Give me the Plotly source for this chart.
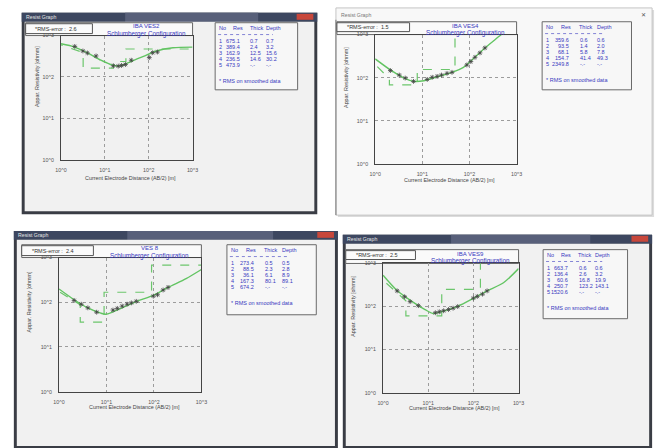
import plotly.graph_objects as go

# ---------------- data ----------------
TICK_VALS = [1, 10, 100, 1000]
TICK_TEXT = ["10^0", "10^1", "10^2", "10^3"]
X_END = 1000

# VES2
VES2_AB2 = [2.06, 3.16, 4.0, 6.3, 15.6, 20.2, 24, 29.5, 40, 103, 123, 158]
VES2_RHO = [547, 424, 380, 322, 186, 183, 190, 200, 254, 294, 386, 401]
VES2_FIT_AB2 = [1, 2.06, 4.1, 8.1, 14.8, 22.8, 38, 76, 150, 356, 1000]
VES2_FIT_RHO = [633, 527, 379, 254, 193, 186, 232, 316, 424, 508, 527]
VES2_RES = [675.1, 389.4, 162.9, 236.5, 473.9]
VES2_DEPTH = [0.7, 3.2, 15.6, 30.2]
VES2_RES_TXT = ["675.1", "389.4", "162.9", "236.5", "473.9"]
VES2_THICK_TXT = ["0.7", "2.4", "12.5", "14.6", "-.-"]
VES2_DEPTH_TXT = ["0.7", "3.2", "15.6", "30.2", "-.-"]
VES2_RMS = "2.6"
VES2_TITLE = "IBA VES2"

# VES4
VES4_AB2 = [2.1, 3.24, 4.33, 6.5, 12.7, 16.2, 20.6, 25.5, 33.4, 42.6, 88, 107, 131, 167, 213]
VES4_RHO = [146, 115, 98, 82, 91, 102, 107, 115, 126, 133, 197, 236, 297, 375, 490]
VES4_FIT_AB2 = [1, 2.1, 4.1, 6.7, 10.8, 20.6, 42.6, 74.5, 103, 213, 474, 1000]
VES4_FIT_RHO = [272, 151, 98, 82, 85, 105, 133, 174, 236, 490, 1000, 2000]
VES4_RES = [359.6, 93.5, 68.1, 154.7, 2349.8]
VES4_DEPTH = [0.6, 2.0, 7.8, 49.3]
VES4_RES_TXT = ["359.6", "93.5", "68.1", "154.7", "2349.8"]
VES4_THICK_TXT = ["0.6", "1.4", "5.8", "41.4", "-.-"]
VES4_DEPTH_TXT = ["0.6", "2.0", "7.8", "49.3", "-.-"]
VES4_RMS = "1.5"
VES4_TITLE = "IBA VES4"

# VES 8
VES8_AB2 = [2.08, 2.94, 4.05, 6.2, 13.7, 16.9, 21.4, 27.2, 33.4, 42.4, 97, 119, 156, 198]
VES8_RHO = [110, 90.5, 75, 60, 67, 73, 82, 90.6, 96.8, 105, 137, 147, 188, 215]
VES8_FIT_AB2 = [1, 2.08, 4.05, 7.6, 9.7, 13.3, 43.6, 97, 198, 476, 1000]
VES8_FIT_RHO = [198, 114, 75, 57, 54, 60, 105, 142, 215, 338, 540]
VES8_RES = [273.4, 88.5, 36.1, 167.3, 674.2]
VES8_DEPTH = [0.5, 2.8, 8.9, 89.1]
VES8_RES_TXT = ["273.4", "88.5", "36.1", "167.3", "674.2"]
VES8_THICK_TXT = ["0.5", "2.3", "6.1", "80.1", "-.-"]
VES8_DEPTH_TXT = ["0.5", "2.8", "8.9", "89.1", "-.-"]
VES8_RMS = "2.4"
VES8_TITLE = "VES 8"

# VES9
VES9_AB2 = [2.05, 3.0, 3.97, 6.06, 14.4, 17.6, 21.9, 28.1, 35.5, 44.9, 100, 122, 159, 201]
VES9_RHO = [231, 169, 130, 105, 71.8, 75.6, 79.8, 85.4, 91.6, 100, 157, 172, 194, 231]
VES9_FIT_AB2 = [1, 2.05, 4.34, 8.5, 12.8, 17.9, 44.9, 103, 201, 464, 1000]
VES9_FIT_RHO = [533, 235, 132, 85, 69, 74, 101, 157, 231, 357, 760]
VES9_RES = [663.7, 136.4, 60.6, 250.7, 1520.6]
VES9_DEPTH = [0.6, 3.2, 19.9, 143.1]
VES9_RES_TXT = ["663.7", "136.4", "60.6", "250.7", "1520.6"]
VES9_THICK_TXT = ["0.6", "2.6", "16.8", "123.2", "-.-"]
VES9_DEPTH_TXT = ["0.6", "3.2", "19.9", "143.1", "-.-"]
VES9_RMS = "2.5"
VES9_TITLE = "IBA VES9"

# ---------------- geometry / style ----------------
W, H = 664, 448
FONT = "Liberation Sans, Arial, sans-serif"
BLUE = "#3838c0"
GREEN = "#62c462"
GREEN_D = "#6cc66c"

PANELS = [
    dict(ab2=VES2_AB2, rho=VES2_RHO, fx=VES2_FIT_AB2, fy=VES2_FIT_RHO, res=VES2_RES, dep=VES2_DEPTH,
         rt=VES2_RES_TXT, tt=VES2_THICK_TXT, dt=VES2_DEPTH_TXT, rms=VES2_RMS, title=VES2_TITLE,
         win=(16, 10, 317, 214), style="dark", plot=(56, 33, 190, 159), htop=20,
         rbox=(20, 21, 88, 31), table=(213, 20, 297, 88), ttl=(23, 31), xt=177, yt=31),
    dict(ab2=VES4_AB2, rho=VES4_RHO, fx=VES4_FIT_AB2, fy=VES4_FIT_RHO, res=VES4_RES, dep=VES4_DEPTH,
         rt=VES4_RES_TXT, tt=VES4_THICK_TXT, dt=VES4_DEPTH_TXT, rms=VES4_RMS, title=VES4_TITLE,
         win=(336, 5, 658, 215), style="light", plot=(376, 32, 520, 163), htop=19,
         rbox=(337, 20, 411, 29), table=(546, 19, 637, 88), ttl=(23, 30), xt=179, yt=346),
    dict(ab2=VES8_AB2, rho=VES8_RHO, fx=VES8_FIT_AB2, fy=VES8_FIT_RHO, res=VES8_RES, dep=VES8_DEPTH,
         rt=VES8_RES_TXT, tt=VES8_THICK_TXT, dt=VES8_DEPTH_TXT, rms=VES8_RMS, title=VES8_TITLE,
         win=(8, 231, 338, 452), style="dark", plot=(54, 258, 199, 394), htop=245,
         rbox=(16, 246, 89, 256), table=(225, 245, 316, 316), ttl=(248, 256), xt=409, yt=23),
    dict(ab2=VES9_AB2, rho=VES9_RHO, fx=VES9_FIT_AB2, fy=VES9_FIT_RHO, res=VES9_RES, dep=VES9_DEPTH,
         rt=VES9_RES_TXT, tt=VES9_THICK_TXT, dt=VES9_DEPTH_TXT, rms=VES9_RMS, title=VES9_TITLE,
         win=(343, 235, 658, 452), style="dark", plot=(384, 264, 522, 395), htop=250,
         rbox=(346, 251, 417, 260), table=(547, 250, 633, 320), ttl=(254, 261), xt=411, yt=353),
]


def px(x):
    return x / W


def py(y):
    return 1 - y / H


def step_curve(depths, res):
    xs, ys = [depths[0]], [res[0]]
    for i, d in enumerate(depths[1:], start=1):
        xs += [d, d]
        ys += [res[i], res[i + 1]]
    xs.append(X_END)
    ys.append(res[-1])
    return xs, ys


shapes = []
annots = []


def rect(x0, y0, x1, y1, fill=None, line=None, lw=1, layer="below"):
    shapes.append(dict(type="rect", xref="paper", yref="paper", x0=px(x0), x1=px(x1),
                       y0=py(y1), y1=py(y0), fillcolor=fill or "rgba(0,0,0,0)",
                       line=dict(color=line or "rgba(0,0,0,0)", width=lw if line else 0),
                       layer=layer))


def hline(x0, x1, y, color, lw=1, dash="solid", layer="above"):
    shapes.append(dict(type="line", xref="paper", yref="paper", x0=px(x0), x1=px(x1),
                       y0=py(y), y1=py(y), line=dict(color=color, width=lw, dash=dash), layer=layer))


def text(t, x, y, size=5.5, color="#333", xanchor="left", angle=0):
    annots.append(dict(text=t, xref="paper", yref="paper", x=px(x), y=py(y), showarrow=False,
                       xanchor=xanchor, yanchor="middle", textangle=angle, borderpad=0,
                       font=dict(family=FONT, size=size, color=color)))


fig = go.Figure()
layout_axes = {}

for i, p in enumerate(PANELS):
    n = i + 1
    xname = "x" if n == 1 else f"x{n}"
    yname = "y" if n == 1 else f"y{n}"
    x0, y0, x1, y1 = p["plot"]

    # window chrome
    wx0, wy0, wx1, wy1 = p["win"]
    if p["style"] == "dark":
        rect(wx0, wy0, wx1, wy1, fill="#3a3d45")
        rect(wx0, wy0, wx1, wy0 + 9, fill="#3d4760")
        rect(wx0 + (wx1 - wx0) * 0.35, wy0, wx0 + (wx1 - wx0) * 0.8, wy0 + 9, fill="#58607a")
        rect(wx0 + 3, wy0 + 9, wx1 - 3, wy1 - 3, fill="#f1f1f1")
        rect(wx1 - 21, wy0 + 1, wx1 - 4, wy0 + 7, fill="#c8473b")
        text("Resist Graph", wx0 + 3, wy0 + 4.5, size=5.2, color="#e6e6e6")
    else:
        rect(wx0 + 2, wy0 + 2, wx1 + 2, wy1 + 2, fill="#dcdcdc")
        rect(wx0, wy0, wx1, wy1, fill="#f8f8f8", line="#c4c4c4")
        shapes.append(dict(type="line", xref="paper", yref="paper", x0=px(wx0), x1=px(wx0),
                           y0=py(wy1), y1=py(wy0 + 12), line=dict(color="#777", width=1), layer="below"))
        text("Resist Graph", wx0 + 4, wy0 + 7, size=5.2, color="#777")
        text("✕", wx1 - 9, wy0 + 7, size=6, color="#555", xanchor="center")

    # header frame, rms box, title
    rect(p["rbox"][0], p["htop"], x1, y0, fill="#fafafa", line="#666", layer="below")
    rect(*p["rbox"], fill="#fbfbfb", line="#555", layer="above")
    text("*RMS-error :  " + p["rms"], p["rbox"][0] + 9, (p["rbox"][1] + p["rbox"][3]) / 2, size=5.5, color="#333")
    tcx = (x0 + x1) / 2 + 20
    text(p["title"], tcx, p["ttl"][0], size=6, color=BLUE, xanchor="center")
    text("Schlumberger Configuration", tcx, p["ttl"][1], size=6.3, color=BLUE, xanchor="center")

    # table box
    tx0, ty0, tx1, ty1 = p["table"]
    tw = tx1 - tx0
    rect(tx0, ty0, tx1, ty1, fill="#f7f7f7", line="#6a6a6a", layer="below")
    text("No", tx0 + 3, ty0 + 5.5, color=BLUE)
    text("Res", tx0 + 0.2 * tw, ty0 + 5.5, color=BLUE)
    text("Thick", tx0 + 0.405 * tw, ty0 + 5.5, color=BLUE)
    text("Depth", tx0 + 0.6 * tw, ty0 + 5.5, color=BLUE)
    hline(tx0 + 3, tx0 + 0.7 * tw, ty0 + 12, BLUE, lw=0.6, dash="dot")
    for k in range(5):
        ry = ty0 + 18.5 + 6 * k
        text(str(k + 1), tx0 + 3, ry, color=BLUE)
        text(p["rt"][k], tx0 + 0.31 * tw, ry, color=BLUE, xanchor="right")
        text(p["tt"][k], tx0 + 0.415 * tw, ry, color=BLUE)
        text(p["dt"][k], tx0 + 0.605 * tw, ry, color=BLUE)
    text("* RMS on smoothed data", tx0 + 3, ty0 + 59, color=BLUE)

    # axis titles
    text("Current Electrode Distance (AB/2) [m]", (x0 + x1) / 2 + 4, p["xt"], size=5.4, color="#444",
         xanchor="center")
    text("Appar. Resistivity [ohmm]", p["yt"], y0 + 0.33 * (y1 - y0), size=5.4, color="#444",
         xanchor="center", angle=-90)

    # traces
    sx, sy = step_curve(p["dep"], p["res"])
    fig.add_trace(go.Scatter(x=sx, y=sy, mode="lines", xaxis=xname, yaxis=yname,
                             line=dict(color=GREEN_D, width=1.2, dash="dash"),
                             showlegend=False, hoverinfo="skip"))
    fig.add_trace(go.Scatter(x=p["fx"], y=p["fy"], mode="lines", xaxis=xname, yaxis=yname,
                             line=dict(color=GREEN, width=1.4, shape="spline", smoothing=0.8),
                             showlegend=False, hoverinfo="skip"))
    fig.add_trace(go.Scatter(x=p["ab2"], y=p["rho"], mode="markers", xaxis=xname, yaxis=yname,
                             marker=dict(symbol="asterisk-open", size=4, color="#444",
                                         line=dict(color="#444", width=0.8)),
                             showlegend=False, hoverinfo="skip"))

    common = dict(type="log", range=[0, 3], tickvals=TICK_VALS, ticktext=TICK_TEXT,
                  showgrid=True, gridcolor="#9c9c9c", griddash="dot", gridwidth=1,
                  showline=True, linecolor="#444", linewidth=1, mirror=True, ticks="",
                  zeroline=False, tickfont=dict(family=FONT, size=5.3, color="#555"),
                  fixedrange=True)
    layout_axes["xaxis" if n == 1 else f"xaxis{n}"] = dict(common, domain=[px(x0), px(x1)], anchor=yname,
                                                           ticklabelstandoff=5)
    layout_axes["yaxis" if n == 1 else f"yaxis{n}"] = dict(common, domain=[py(y1), py(y0)], anchor=xname,
                                                           ticklabelstandoff=5)

fig.update_layout(
    width=W, height=H, margin=dict(l=0, r=0, t=0, b=0),
    paper_bgcolor="#ffffff", plot_bgcolor="#f9f9f9",
    shapes=shapes, annotations=annots, showlegend=False,
    font=dict(family=FONT),
    **layout_axes,
)

fig.write_html("out.html", config={"displayModeBar": False},
               post_script="document.body.style.margin='0';document.body.style.overflow='hidden';")
